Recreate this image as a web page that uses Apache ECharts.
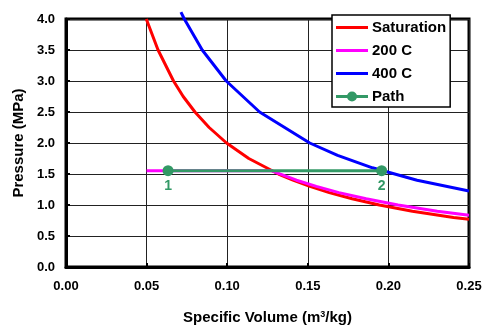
<!DOCTYPE html>
<html>
<head>
<meta charset="utf-8">
<script src="https://cdn.jsdelivr.net/npm/echarts@6/dist/echarts.min.js"></script>
<style>
  html, body { margin: 0; padding: 0; background: #fff; }
  #chart { width: 487px; height: 327px; }
</style>
</head>
<body>
<div id="chart"></div>
<script>
// saturated vapour line
const satV = [0.0498, 0.0571, 0.0667, 0.0727, 0.0800, 0.0888, 0.0996, 0.1134, 0.1318, 0.1408, 0.1513, 0.1633, 0.1775, 0.1944, 0.2149, 0.2404, 0.2500]
const satP = [4.0, 3.5, 3.0, 2.75, 2.5, 2.25, 2.0, 1.75, 1.5, 1.4, 1.3, 1.2, 1.1, 1.0, 0.9, 0.8, 0.77]
// 200 C isotherm
const t200V = [0.0500, 0.1272, 0.1430, 0.1553, 0.1693, 0.1862, 0.2060, 0.2303, 0.2500]
const t200P = [1.554, 1.554, 1.4, 1.3, 1.2, 1.1, 1.0, 0.9, 0.835]
// 400 C isotherm
const t400V = [0.0713, 0.0734, 0.0845, 0.0994, 0.1201, 0.1512, 0.1685, 0.1901, 0.2178, 0.2500]
const t400P = [4.11, 4.0, 3.5, 3.0, 2.5, 2.0, 1.8, 1.6, 1.4, 1.225]
// process path 1 -> 2
const pathV = [0.0633, 0.1958]
const pathP = [1.554, 1.554]
const pathNames = ['1', '2']

const pairs = (xs, ys) => xs.map((x, i) => [x, ys[i]])
const font = 'Liberation Sans, Arial, sans-serif'

// legend icons: plain line, and line with a dot
const lineIcon = 'path://M0,0 M0,5.5 L32,5.5 L32,8.5 L0,8.5 Z M32,14'
const dotIcon = 'path://M0,0 M0,5.5 L32,5.5 L32,8.5 L0,8.5 Z M21,7 A5,5 0 1 1 11,7 A5,5 0 1 1 21,7 Z M32,14'

const chart = echarts.init(document.getElementById('chart'))
chart.setOption({
  animation: false,
  grid: {
    left: 66,
    right: 18,
    top: 19,
    bottom: 60,
    outerBoundsMode: 'none',
    containLabel: false,
    show: true,
    borderColor: '#000',
    borderWidth: 3,
  },
  legend: {
    orient: 'vertical',
    left: 332,
    top: 15,
    padding: [5, 4, 3, 4],
    itemGap: 8,
    itemWidth: 32,
    itemHeight: 14,
    backgroundColor: '#fff',
    borderColor: '#000',
    borderWidth: 1.5,
    textStyle: { fontFamily: font, fontWeight: 'bold', fontSize: 15, color: '#000', padding: [0, 0, 0, -1] },
    data: [
      { name: 'Saturation', icon: lineIcon },
      { name: '200 C', icon: lineIcon },
      { name: '400 C', icon: lineIcon },
      { name: 'Path', icon: dotIcon },
    ],
  },
  xAxis: {
    type: 'value',
    min: 0,
    max: 0.25,
    interval: 0.05,
    name: 'Specific Volume (m{sup|3}/kg)',
    nameLocation: 'middle',
    nameGap: 43,
    nameTextStyle: {
      fontFamily: font, fontWeight: 'bold', fontSize: 15, color: '#000',
      rich: { sup: { fontFamily: font, fontWeight: 'bold', fontSize: 9, color: '#000', verticalAlign: 'top', padding: [0, 0, 7, 0] } },
    },
    axisLine: { show: true, lineStyle: { color: '#000', width: 3 } },
    axisTick: { show: true, inside: true, length: 4, lineStyle: { color: '#000', width: 2 } },
    axisLabel: {
      margin: 13,
      fontFamily: font, fontWeight: 'bold', fontSize: 13, color: '#000',
      formatter: v => v.toFixed(2),
    },
    splitLine: { show: true, lineStyle: { color: '#222', width: 1 } },
  },
  yAxis: {
    type: 'value',
    min: 0,
    max: 4,
    interval: 0.5,
    name: 'Pressure (MPa)',
    nameLocation: 'middle',
    nameGap: 38,
    nameTextStyle: { fontFamily: font, fontWeight: 'bold', fontSize: 15, color: '#000' },
    axisLine: { show: true, lineStyle: { color: '#000', width: 3 } },
    axisTick: { show: true, inside: true, length: 4, lineStyle: { color: '#000', width: 2 } },
    axisLabel: {
      margin: 11,
      fontFamily: font, fontWeight: 'bold', fontSize: 13, color: '#000',
      formatter: v => v.toFixed(1),
    },
    splitLine: { show: true, lineStyle: { color: '#222', width: 1 } },
  },
  series: [
    {
      name: 'Saturation',
      type: 'line',
      data: pairs(satV, satP),
      symbol: 'none',
      clip: false,
      lineStyle: { color: '#ff0000', width: 3 },
      itemStyle: { color: '#ff0000' },
    },
    {
      name: '200 C',
      type: 'line',
      data: pairs(t200V, t200P),
      symbol: 'none',
      clip: false,
      lineStyle: { color: '#ff00ff', width: 3 },
      itemStyle: { color: '#ff00ff' },
    },
    {
      name: '400 C',
      type: 'line',
      data: pairs(t400V, t400P),
      symbol: 'none',
      clip: false,
      lineStyle: { color: '#0000ff', width: 3 },
      itemStyle: { color: '#0000ff' },
    },
    {
      name: 'Path',
      type: 'line',
      data: pathV.map((v, i) => ({ value: [v, pathP[i]], name: pathNames[i] })),
      symbol: 'circle',
      symbolSize: 11,
      lineStyle: { color: '#339966', width: 3 },
      itemStyle: { color: '#339966' },
      label: {
        show: true,
        position: 'bottom',
        distance: 3,
        formatter: p => p.name,
        fontFamily: font, fontWeight: 'bold', fontSize: 14, color: '#339966',
      },
    },
  ],
})
</script>
</body>
</html>
